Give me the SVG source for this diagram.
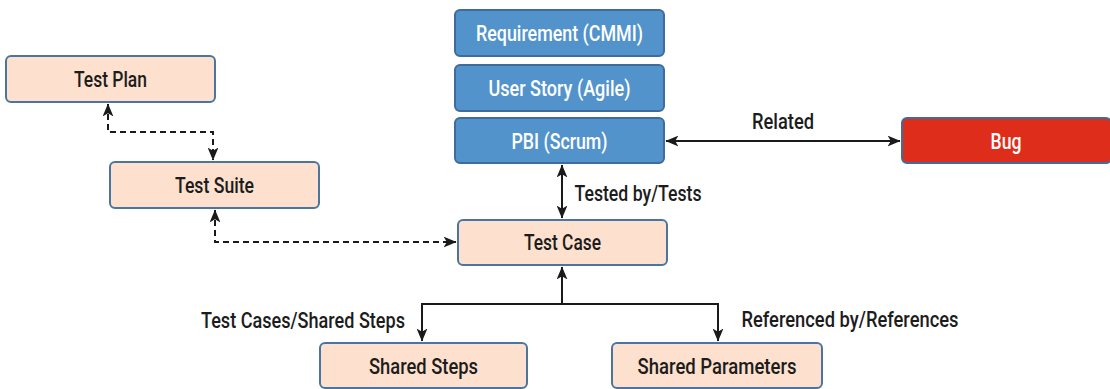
<svg xmlns="http://www.w3.org/2000/svg" width="1110" height="389" viewBox="0 0 1110 389">
<defs>
<marker id="ah" viewBox="0 0 12 10" refX="11.5" refY="5" markerWidth="13" markerHeight="11" markerUnits="userSpaceOnUse" orient="auto-start-reverse">
<path d="M0,0 L12,5 L0,10 L3,5 z" fill="#1a1a1a"/>
</marker>
<style>
.peach{fill:#fde1ce;stroke:#4a75a3;stroke-width:2}
.blue{fill:#5293cc;stroke:#3e6c9c;stroke-width:2}
.red{fill:#de2d1a;stroke:#3e6c9c;stroke-width:2}
text{font-family:Roboto,"Liberation Sans",sans-serif;font-weight:500;font-size:22px;text-anchor:middle}
.dk{fill:#1c1c1c}
.wt{fill:#ffffff}
.lbl{fill:#1c1c1c}
.ln{fill:none;stroke:#1a1a1a;stroke-width:2}
.dash{stroke-dasharray:6 4}
</style>
</defs>
<g id="connectors">
<path class="ln dash" d="M108,104 V132 H213 V160" marker-start="url(#ah)" marker-end="url(#ah)"/>
<path class="ln dash" d="M215,210 V242 H456" marker-start="url(#ah)" marker-end="url(#ah)"/>
<path class="ln" d="M666,141 H900" marker-start="url(#ah)" marker-end="url(#ah)"/>
<path class="ln" d="M562,165 V218" marker-start="url(#ah)" marker-end="url(#ah)"/>
<path class="ln" d="M562,304 V267" marker-end="url(#ah)"/>
<path class="ln" d="M422,341 V304 H718 V341" marker-start="url(#ah)" marker-end="url(#ah)"/>
<text class="lbl" x="783" y="129" textLength="62" lengthAdjust="spacingAndGlyphs">Related</text>
<text class="lbl" x="638" y="201" textLength="127" lengthAdjust="spacingAndGlyphs">Tested by/Tests</text>
<text class="lbl" x="303" y="328" textLength="204" lengthAdjust="spacingAndGlyphs">Test Cases/Shared Steps</text>
<text class="lbl" x="850" y="327" textLength="217" lengthAdjust="spacingAndGlyphs">Referenced by/References</text>
</g>
<g id="test-plan">
<rect class="peach" x="6" y="56" width="209" height="46" rx="5"/>
<text class="dk" x="110.5" y="86.5" textLength="73" lengthAdjust="spacingAndGlyphs">Test Plan</text>
</g>
<g id="test-suite">
<rect class="peach" x="110" y="162" width="209" height="46" rx="5"/>
<text class="dk" x="214.5" y="192.5" textLength="79" lengthAdjust="spacingAndGlyphs">Test Suite</text>
</g>
<g id="requirement">
<rect class="blue" x="455" y="10" width="209" height="46" rx="5"/>
<text class="wt" x="559.5" y="41" textLength="167" lengthAdjust="spacingAndGlyphs">Requirement (CMMI)</text>
</g>
<g id="user-story">
<rect class="blue" x="455" y="65" width="209" height="46" rx="5"/>
<text class="wt" x="559.5" y="96" textLength="142" lengthAdjust="spacingAndGlyphs">User Story (Agile)</text>
</g>
<g id="pbi">
<rect class="blue" x="455" y="118" width="209" height="45" rx="5"/>
<text class="wt" x="559.5" y="148.5" textLength="96" lengthAdjust="spacingAndGlyphs">PBI (Scrum)</text>
</g>
<g id="bug">
<rect class="red" x="902" y="118" width="209" height="45" rx="5"/>
<text class="wt" x="1006" y="148.5" textLength="31" lengthAdjust="spacingAndGlyphs">Bug</text>
</g>
<g id="test-case">
<rect class="peach" x="458" y="220" width="209" height="45" rx="5"/>
<text class="dk" x="562.5" y="250" textLength="77" lengthAdjust="spacingAndGlyphs">Test Case</text>
</g>
<g id="shared-steps">
<rect class="peach" x="320" y="343" width="207" height="45" rx="5"/>
<text class="dk" x="423.5" y="373.5" textLength="109" lengthAdjust="spacingAndGlyphs">Shared Steps</text>
</g>
<g id="shared-parameters">
<rect class="peach" x="612" y="343" width="210" height="45" rx="5"/>
<text class="dk" x="717" y="373.5" textLength="159" lengthAdjust="spacingAndGlyphs">Shared Parameters</text>
</g>
</svg>
